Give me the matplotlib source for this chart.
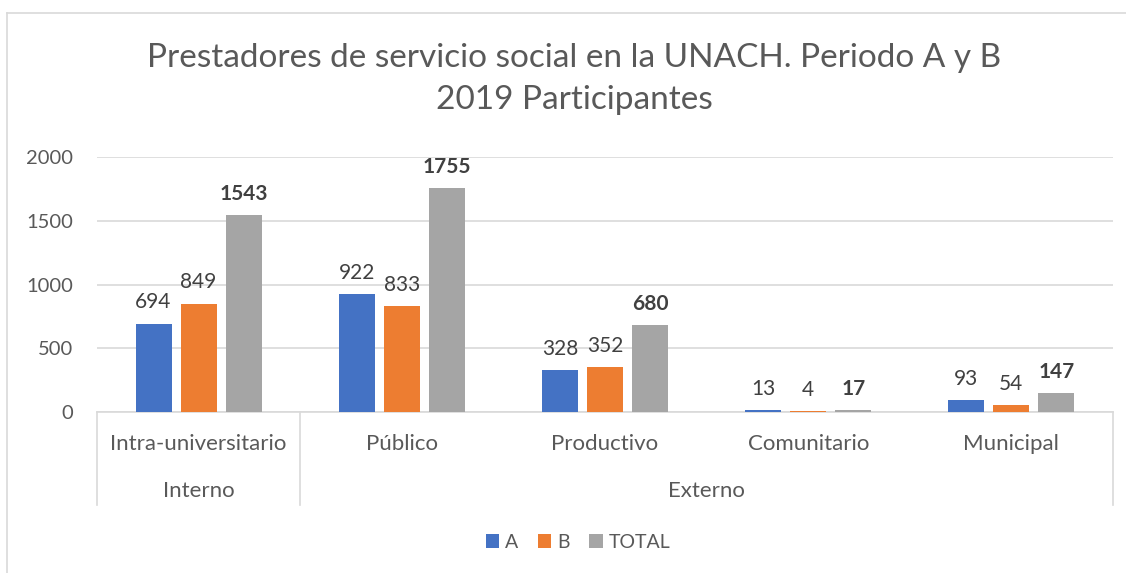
import matplotlib.pyplot as plt
import numpy as np
from matplotlib.lines import Line2D
from matplotlib.patches import Patch

plt.rcParams['font.family'] = ['Lato', 'DejaVu Sans']

# --------------------------------------------------
# data
# --------------------------------------------------
categories = ["Intra-universitario", "Público", "Productivo", "Comunitario", "Municipal"]
groups = ["Interno", "Externo"]
group_sizes = [1, 4]
serie_a = [694, 922, 328, 13, 93]
serie_b = [849, 833, 352, 4, 54]
serie_total = [1543, 1755, 680, 17, 147]
y_ticks = [0, 500, 1000, 1500, 2000]

title = "Prestadores de servicio social en la UNACH. Periodo A y B\n2019 Participantes"

colors = {"A": "#4472C4", "B": "#ED7D31", "TOTAL": "#A5A5A5"}
txt_gray = "#595959"
lbl_gray = "#404040"
grid_gray = "#D9D9D9"

W, H = 1126, 573
fig = plt.figure(figsize=(W / 100, H / 100), dpi=100)

# plot area in pixel coords -> figure fractions
x0, x1 = 97, 1113
y_top, y_zero = 157, 412
ax = fig.add_axes([x0 / W, 1 - y_zero / H, (x1 - x0) / W, (y_zero - y_top) / H])

x = np.arange(len(categories))
bw = 36 / 203
step = 45 / 203

series = [("A", serie_a), ("B", serie_b), ("TOTAL", serie_total)]
for i, (name, vals) in enumerate(series):
    pos = x + (i - 1) * step
    ax.bar(pos, vals, width=bw, color=colors[name], zorder=3)
    for px, v in zip(pos, vals):
        ax.annotate(str(v), (px, v), xytext=(0, 11), textcoords="offset points",
                    ha="center", va="baseline", fontsize=15, color=lbl_gray,
                    fontweight="bold" if name == "TOTAL" else "normal")

ax.set_xlim(-0.5, len(categories) - 0.5)
ax.set_ylim(0, 2000)
ax.set_yticks(y_ticks)
ax.set_yticklabels([str(t) for t in y_ticks], fontsize=14.5, color=txt_gray)
ax.tick_params(axis="y", length=0, pad=17)
ax.set_xticks([])
ax.grid(axis="y", color=grid_gray, linewidth=1.2, zorder=0)
for s in ["top", "right", "left"]:
    ax.spines[s].set_visible(False)
ax.spines["bottom"].set_color(grid_gray)
ax.spines["bottom"].set_linewidth(1.2)

# --------------------------------------------------
# two-level category axis
# --------------------------------------------------
trans = ax.get_xaxis_transform()
px_to_ax = 1 / (y_zero - y_top)
y_lvl1 = -(444 - y_zero) * px_to_ax
y_lvl2 = -(491 - y_zero) * px_to_ax
y_end = -(505 - y_zero) * px_to_ax

for xi, cat in zip(x, categories):
    ax.text(xi, y_lvl1, cat, transform=trans, ha="center", va="center",
            fontsize=16, color=txt_gray)

start = -0.5
bounds = [start]
for g, n in zip(groups, group_sizes):
    end = start + n
    ax.text((start + end) / 2, y_lvl2, g, transform=trans, ha="center", va="center",
            fontsize=16, color=txt_gray)
    bounds.append(end)
    start = end
for b in bounds:
    ax.add_line(Line2D([b, b], [0, y_end], transform=trans, color=grid_gray,
                       linewidth=1.2, clip_on=False))

# --------------------------------------------------
# title, legend, frame
# --------------------------------------------------
fig.text(574 / W, 1 - 79 / H, title, ha="center", va="center", fontsize=24,
         color=txt_gray, linespacing=1.5)

handles = [Patch(facecolor=colors[n], label=n) for n, _ in series]
fig.legend(handles=handles, loc="center", bbox_to_anchor=(578 / W, 1 - 542 / H),
           ncol=3, frameon=False, fontsize=14, labelcolor=txt_gray,
           handlelength=0.7, handleheight=0.7, handletextpad=0.3, columnspacing=1.0)

fig.add_artist(Line2D([7.5 / W, 7.5 / W], [0, 1 - 12.5 / H], color=grid_gray, linewidth=1.2))
fig.add_artist(Line2D([7.5 / W, 1], [1 - 12.5 / H, 1 - 12.5 / H], color=grid_gray, linewidth=1.2))

fig.savefig("out.png", dpi=100)
